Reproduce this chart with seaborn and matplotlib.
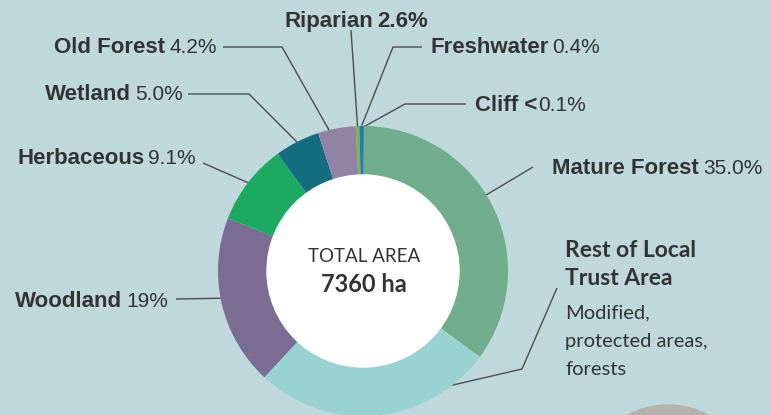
import matplotlib
matplotlib.use("Agg")
import matplotlib.pyplot as plt
import seaborn as sns
import numpy as np
from matplotlib.patches import Circle

# ---------------- data ----------------
categories = ["Cliff", "Mature Forest", "Rest of Local Trust Area", "Woodland",
              "Herbaceous", "Wetland", "Old Forest", "Riparian", "Freshwater"]
shares = [0.1, 35.0, 26.8, 19.0, 9.1, 5.0, 4.2, 0.4, 0.4]
pct_labels = ["0.1%", "35.0%", "", "19%", "9.1%", "5.0%", "4.2%", "2.6%", "0.4%"]
name_labels = ["Cliff <", "Mature Forest", "Rest of Local\nTrust Area", "Woodland",
               "Herbaceous", "Wetland", "Old Forest", "Riparian", "Freshwater"]
rest_subtitle = ["Modified,", "protected areas,", "forests"]
total_label = "TOTAL AREA"
total_value = "7360 ha"

# ---------------- style ----------------
colors = ["#4a6a5a", "#6fad8c", "#98d2d1", "#7a6c92", "#1caa60",
          "#136f80", "#9282a3", "#7ab648", "#1b7dc0"]
BG = "#bfd8db"
TXT = "#333333"
LINE = "#4d4d4d"
W, H = 771, 415
CX, CY, R, RIN = 363, 271, 145, 96

sns.set_theme(style="white")
NARROW = ["Liberation Sans Narrow", "Liberation Sans", "DejaVu Sans"]
plt.rcParams["font.family"] = NARROW

fig = plt.figure(figsize=(W / 100, H / 100), dpi=100)
fig.patch.set_facecolor(BG)
ax = fig.add_axes([0, 0, 1, 1])
ax.set_facecolor(BG)

def Y(y):
    return H - y

wedges, _ = ax.pie(shares, colors=colors, startangle=90, counterclock=False,
                   radius=R, center=(CX, Y(CY)),
                   wedgeprops=dict(width=R - RIN, linewidth=0))
ax.add_patch(Circle((CX, Y(CY)), RIN, color="white", zorder=3))
ax.add_patch(Circle((668, Y(490)), 85, color="#b5b3ab", zorder=0.2))

ax.set_xlim(0, W)
ax.set_ylim(0, H)
ax.set_aspect("equal")
ax.axis("off")

# layout: side, x anchor (left for 'L', right end for 'R'), baseline y, elbow points,
# fraction along wedge (clockwise), pct bold
layout = {
    "Cliff": ("L", 475, 111, [(466, 104), (405, 104)], 0.5, False),
    "Mature Forest": ("L", 552, 174, [(533, 167)], 0.46, False),
    "Rest of Local Trust Area": ("L", 565, 257, [(557, 288), (522, 369)], 0.17, False),
    "Woodland": ("R", 168, 307, [(176, 299)], 0.53, False),
    "Herbaceous": ("R", 196, 164, [(203, 163)], 0.5, False),
    "Wetland": ("R", 183, 100, [(188, 94), (249, 94)], 0.5, False),
    "Old Forest": ("R", 217, 53, [(223, 47), (282, 47)], 0.3, False),
    "Riparian": ("L", 285, 27, [(351, 30)], 0.5, True),
    "Freshwater": ("L", 430, 53, [(422, 47), (393, 47)], 0.5, False),
}

renderer = fig.canvas.get_renderer()
BFS = 16.0
PFS = 15.0
GAP = 4

for i, cat in enumerate(categories):
    side, tx, by, elbows, frac, pbold = layout[cat]
    w = wedges[i]
    ang = np.deg2rad(w.theta2 - frac * (w.theta2 - w.theta1))
    ex = CX + (R - 1) * np.cos(ang)
    ey = Y(CY) + (R - 1) * np.sin(ang)
    xs = [p[0] for p in elbows] + [ex]
    ys = [Y(p[1]) for p in elbows] + [ey]
    ax.plot(xs, ys, color=LINE, lw=1.0, zorder=0.5, solid_capstyle="butt")

    name = name_labels[i]
    pct = pct_labels[i]
    pw = "bold" if pbold else "normal"
    if cat == "Rest of Local Trust Area":
        lines = name.split("\n")
        for k, ln in enumerate(lines):
            ax.text(tx, Y(by + 28 * k), ln, fontsize=16.5, fontweight="bold",
                    color=TXT, ha="left", va="baseline", family=["Lato", "DejaVu Sans"])
        for k, ln in enumerate(rest_subtitle):
            ax.text(tx, Y(318 + 28.5 * k), ln, fontsize=14.5, color=TXT,
                    ha="left", va="baseline", family=["Lato", "DejaVu Sans"])
        continue
    if side == "L":
        t = ax.text(tx, Y(by), name, fontsize=BFS, fontweight="bold", color=TXT,
                    ha="left", va="baseline")
        if pct:
            bb = t.get_window_extent(renderer)
            gap = 1 if name.endswith("<") else GAP
            ax.text(bb.x1 + gap, Y(by), pct, fontsize=BFS if pbold else PFS,
                    fontweight=pw, color=TXT, ha="left", va="baseline")
    else:
        p = ax.text(tx, Y(by), pct, fontsize=PFS, fontweight=pw, color=TXT,
                    ha="right", va="baseline")
        bb = p.get_window_extent(renderer)
        ax.text(bb.x0 - GAP, Y(by), name, fontsize=BFS, fontweight="bold", color=TXT,
                ha="right", va="baseline")

ax.text(CX + 1, Y(262), total_label, fontsize=13.5, color=TXT, ha="center",
        va="baseline", family=["Lato", "DejaVu Sans"], zorder=4)
ax.text(CX + 1, Y(292), total_value, fontsize=17, fontweight="bold", color=TXT,
        ha="center", va="baseline", family=["Lato", "DejaVu Sans"], zorder=4)

fig.savefig("out.png", dpi=100, facecolor=BG)
